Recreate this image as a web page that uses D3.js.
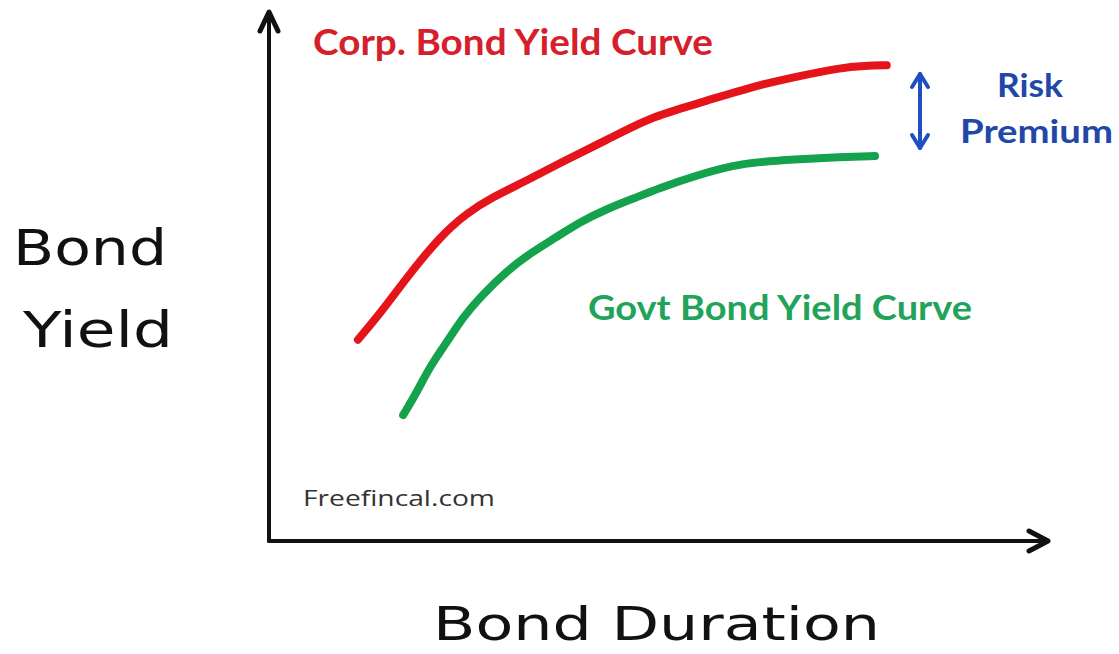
<!DOCTYPE html>
<html><head><meta charset="utf-8">
<script src="https://cdn.jsdelivr.net/npm/d3@7"></script>
<style>html,body{margin:0;padding:0;background:#fff;}svg{display:block;}</style>
</head><body>
<svg id="chart" width="1119" height="654"></svg>
<script>
// Duration (0-100 scale) and yield (0-100 scale)
const corpDuration = [11.4,14.6,17.7,21.9,25.4,28.7,33.1,37.3,43.3,48.8,55.3,61.7,68.1,73.2,76.4,79.2];
const corpYield    = [37.9,43.5,49.7,57.3,61.8,64.8,67.9,71.2,75.5,79.8,82.5,85.5,87.6,89.1,89.5,89.6];
const govtDuration = [17.2,19.1,20.6,23.0,24.9,27.1,30.6,33.5,36.7,39.9,43.1,46.9,50.1,54.9,60.4,67.7,73.2,77.7];
const govtYield    = [23.7,28.4,32.8,37.9,42.2,46.0,51.0,54.2,57.1,60.1,62.4,64.6,66.5,68.9,71.2,71.9,72.3,72.5];
const labels = {
  corp: "Corp. Bond Yield Curve",
  govt: "Govt Bond Yield Curve",
  risk: ["Risk", "Premium"],
  yAxis: ["Bond", "Yield"],
  xAxis: "Bond Duration",
  credit: "Freefincal.com"
};

const svg = d3.select("#chart");
const x = d3.scaleLinear().domain([0,100]).range([269,1049]);
const y = d3.scaleLinear().domain([0,100]).range([541,10]);

// axes
const axisG = svg.append("g").attr("stroke","#111").attr("stroke-width",4).attr("fill","none")
  .attr("stroke-linecap","round").attr("stroke-linejoin","round");
axisG.append("line").attr("x1",x(0)).attr("y1",y(0)).attr("x2",x(0)).attr("y2",y(100)+2);
axisG.append("line").attr("x1",x(0)).attr("y1",y(0)).attr("x2",x(100)-2).attr("y2",y(0));
axisG.append("path").attr("d",`M${x(0)-9},${y(100)+21}L${x(0)},${y(100)+2}L${x(0)+9},${y(100)+21}`).attr("stroke-width",5);
axisG.append("path").attr("d",`M${x(100)-20},${y(0)-10}L${x(100)-1},${y(0)}L${x(100)-20},${y(0)+10}`).attr("stroke-width",5);

const line = d3.line().x(d=>x(d[0])).y(d=>y(d[1])).curve(d3.curveBasis);
const corp = corpDuration.map((d,i)=>[d,corpYield[i]]);
const govt = govtDuration.map((d,i)=>[d,govtYield[i]]);
svg.append("path").attr("d",line(corp)).attr("fill","none").attr("stroke","#e5141b").attr("stroke-width",8).attr("stroke-linecap","round");
svg.append("path").attr("d",line(govt)).attr("fill","none").attr("stroke","#14a24c").attr("stroke-width",8).attr("stroke-linecap","round");

const sans = "Lato, 'Open Sans', sans-serif";
function txt(str, px, py, size, color, len, weight, family){
  return svg.append("text").attr("x",px).attr("y",py).attr("font-family",family||sans)
    .attr("font-size",size).attr("font-weight",weight||"bold").attr("fill",color)
    .attr("textLength",len).attr("lengthAdjust","spacingAndGlyphs").text(str);
}
txt(labels.corp, 313, 55, 36, "#d5202c", 400);
txt(labels.govt, 588, 320, 34, "#22a35a", 384);
txt(labels.risk[0], 997, 97, 33, "#2148a8", 66);
txt(labels.risk[1], 960, 143, 33, "#2148a8", 153);
txt(labels.credit, 303, 506, 22, "#333", 192, "normal", "'Open Sans', sans-serif");

// risk premium double arrow
const rp = svg.append("g").attr("stroke","#1f4fc2").attr("stroke-width",4).attr("fill","none")
  .attr("stroke-linecap","round").attr("stroke-linejoin","round");
rp.append("line").attr("x1",920).attr("y1",74).attr("x2",920).attr("y2",148);
rp.append("path").attr("d","M912,87L920,74L928,87");
rp.append("path").attr("d","M912,135L920,148L928,135");

// hand-lettered axis titles
const hand = "'DejaVu Sans', sans-serif";
txt(labels.yAxis[0], 13, 265, 50, "#111", 154, "normal", hand);
txt(labels.yAxis[1], 23, 347, 50, "#111", 150, "normal", hand);
txt(labels.xAxis, 433, 640, 46, "#111", 447, "normal", hand);
</script>
</body></html>
